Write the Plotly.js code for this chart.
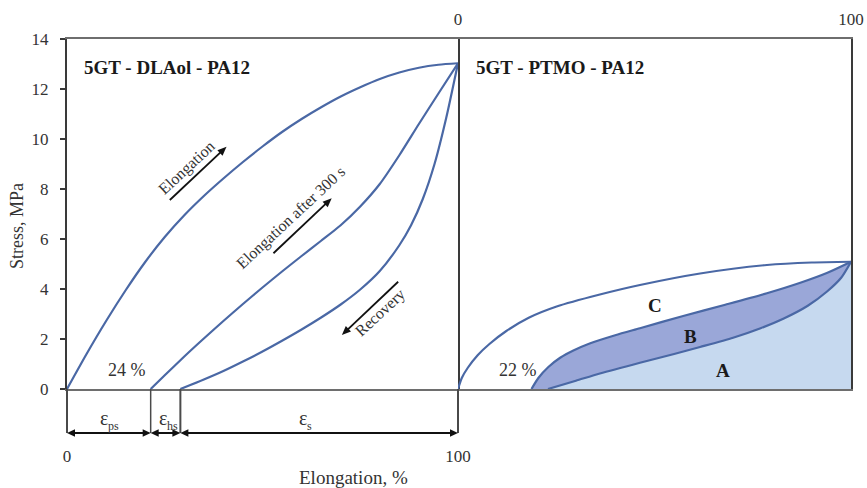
<!DOCTYPE html>
<html><head><meta charset="utf-8">
<script src="https://cdn.plot.ly/plotly-3.0.1.min.js"></script>
<style>html,body{margin:0;padding:0;background:#fff;}#chart{width:867px;height:488px;}</style>
</head><body><div id="chart"></div>
<script>
// ---- Left panel: 5GT - DLAol - PA12 (x: elongation %, y: stress MPa)
const elongX = [0, 5, 10, 15, 20, 25, 30, 35, 40, 45, 50, 55, 60, 65, 70, 75, 80, 85, 90, 95, 100];
const elongY = [0, 1.4, 2.72, 3.95, 5.08, 6.08, 6.95, 7.72, 8.42, 9.08, 9.7, 10.28, 10.8, 11.27, 11.7, 12.07, 12.4, 12.66, 12.85, 12.97, 13.03];
const after300X = [21.4, 25, 30, 35, 40, 45, 50, 55, 60, 65, 70, 75, 80, 85, 90, 95, 100];
const after300Y = [0, 0.55, 1.3, 2.02, 2.72, 3.4, 4.06, 4.7, 5.32, 5.93, 6.55, 7.3, 8.2, 9.35, 10.6, 11.82, 13.03];
const recovX = [29.0, 35, 40, 45, 50, 55, 60, 65, 70, 75, 80, 85, 88, 91, 94, 97, 100];
const recovY = [0, 0.38, 0.72, 1.1, 1.5, 1.93, 2.38, 2.86, 3.38, 3.98, 4.72, 5.75, 6.55, 7.6, 9.0, 10.85, 13.03];

// ---- Right panel: 5GT - PTMO - PA12
const cX = [0, 1, 2.5, 5, 8, 12.3, 18, 25.1, 36.1, 46.3, 61.6, 78.6, 90, 100];
const cY = [0, 0.45, 0.85, 1.35, 1.8, 2.32, 2.85, 3.3, 3.78, 4.16, 4.62, 4.96, 5.06, 5.09];
const bX = [18.7, 20.5, 23, 26, 29.5, 33.5, 40, 46.3, 57.3, 68, 78.6, 87.1, 94, 100];
const bY = [0, 0.45, 0.88, 1.25, 1.55, 1.82, 2.15, 2.43, 2.92, 3.37, 3.83, 4.25, 4.65, 5.09];
const aX = [22.9, 30, 36.1, 46.3, 55, 61.6, 70, 77, 82.9, 89, 93.9, 97.5, 100];
const aY = [0, 0.33, 0.62, 1.05, 1.4, 1.68, 2.05, 2.43, 2.82, 3.33, 3.9, 4.45, 5.09];

// ---- Tick labels
const yTicks = [0, 2, 4, 6, 8, 10, 12, 14];
const xTicks = [0, 100];
const xTickText = ['0', '100'];
const xRange = [0, 100];
const yRange = [0, 14];

const W = 867, H = 488, M = {l: 67, r: 16, t: 39, b: 99};
const leftDomain = [0, 0.4987];
const pxPerX = (W - M.l - M.r) * (leftDomain[1] - leftDomain[0]) / (xRange[1] - xRange[0]);
const pxPerY = (H - M.t - M.b) / (yRange[1] - yRange[0]);

const serif = '"Liberation Serif", "Times New Roman", serif';
const lineColor = '#4a68a5';
const lineStyle = {color: lineColor, width: 2.2, shape: 'spline', smoothing: 0.7};

const traces = [
  {x: elongX, y: elongY, xaxis: 'x', yaxis: 'y', mode: 'lines', line: lineStyle, name: 'Elongation'},
  {x: after300X, y: after300Y, xaxis: 'x', yaxis: 'y', mode: 'lines', line: lineStyle, name: 'Elongation after 300 s'},
  {x: recovX, y: recovY, xaxis: 'x', yaxis: 'y', mode: 'lines', line: lineStyle, name: 'Recovery'},
  {x: aX, y: aY, xaxis: 'x2', yaxis: 'y2', mode: 'lines', fill: 'tozeroy', fillcolor: '#c6d9ef', line: lineStyle, name: 'A'},
  {x: bX, y: bY, xaxis: 'x2', yaxis: 'y2', mode: 'lines', fill: 'tonexty', fillcolor: '#9aa7d8', line: lineStyle, name: 'B'},
  {x: cX, y: cY, xaxis: 'x2', yaxis: 'y2', mode: 'lines', line: lineStyle, name: 'C'}
];

// arrowhead path in pixels (tip at the anchor), direction given in screen pixels (y up)
function headPath(dx, dy, L, Wd) {
  const len = Math.hypot(dx, dy), ux = dx / len, uy = dy / len;
  const px = -uy, py = ux, bx = -L * ux, by = -L * uy, hw = Wd / 2;
  const f = v => v.toFixed(2);
  return 'M0,0L' + f(bx + hw * px) + ',' + f(by + hw * py) + 'L' + f(bx - hw * px) + ',' + f(by - hw * py) + 'Z';
}

// strain partition boundaries (start of each curve and the maximum elongation)
const bounds = [elongX[0], after300X[0], recovX[0], elongX[elongX.length - 1]];
const boundWidths = [2, 1.5, 2, 2];
const strainSubs = ['ps', 'hs', 's'];
const strainLabelX = [10.6, 25.7, 61.4];
const bracketDepth = -44 / (H - M.t - M.b); // paper fraction below the x axis

const shapes = [];
bounds.forEach((b, i) => {
  const edge = (b === xRange[0] || b === xRange[1]);
  const xv = edge ? (b - xRange[0]) / (xRange[1] - xRange[0]) : b;
  shapes.push({type: 'line', xref: edge ? 'x domain' : 'x', x0: xv, x1: xv, yref: 'paper', y0: 0, y1: bracketDepth,
    line: {color: '#4a4a4a', width: boundWidths[i]}});
});
const hShort = 3 / pxPerX;
for (let i = 0; i < bounds.length - 1; i++) {
  shapes.push({type: 'line', xref: 'x', yref: 'paper', x0: bounds[i] + hShort, x1: bounds[i + 1] - hShort,
    y0: bracketDepth, y1: bracketDepth, line: {color: '#111', width: 2}});
  [[bounds[i], -1], [bounds[i + 1], 1]].forEach(h => shapes.push({type: 'path', xref: 'x', yref: 'paper',
    xsizemode: 'pixel', ysizemode: 'pixel', xanchor: h[0], yanchor: bracketDepth,
    path: headPath(h[1], 0, 8, 7.5), fillcolor: '#111', line: {width: 0}}));
}
// in-plot arrows
const arrows = [
  {tail: [26.3, 7.56], head: [40.8, 9.69]},
  {tail: [52.8, 5.43], head: [67.7, 7.63]},
  {tail: [84.7, 4.29], head: [70.3, 2.16]}
];
arrows.forEach(a => {
  const dx = (a.head[0] - a.tail[0]) * pxPerX, dy = (a.head[1] - a.tail[1]) * pxPerY;
  const len = Math.hypot(dx, dy), back = 5;
  shapes.push({type: 'line', xref: 'x', yref: 'y', x0: a.tail[0], y0: a.tail[1],
    x1: a.head[0] - back * dx / len / pxPerX, y1: a.head[1] - back * dy / len / pxPerY, line: {color: '#111', width: 1.8}});
  shapes.push({type: 'path', xref: 'x', yref: 'y', xsizemode: 'pixel', ysizemode: 'pixel', xanchor: a.head[0], yanchor: a.head[1],
    path: headPath(dx, dy, 9, 7.5), fillcolor: '#111', line: {width: 0}});
});

const ann = [];
for (let i = 0; i < strainSubs.length; i++) {
  ann.push({x: strainLabelX[i], y: 0, xref: 'x', yref: 'y', xanchor: 'right', xshift: 2, yshift: -29, text: 'ε',
    showarrow: false, font: {family: serif, size: 20, color: '#333'}});
  ann.push({x: strainLabelX[i], y: 0, xref: 'x', yref: 'y', xanchor: 'left', xshift: -2, yshift: -37, text: strainSubs[i],
    showarrow: false, font: {family: serif, size: 12, color: '#333'}});
}
const rotTexts = [
  {t: 'Elongation', x: 30.6, y: 8.83},
  {t: 'Elongation after 300 s', x: 57.2, y: 6.85},
  {t: 'Recovery', x: 80.1, y: 3.03}
];
rotTexts.forEach(r => ann.push({x: r.x, y: r.y, xref: 'x', yref: 'y', text: r.t, showarrow: false, textangle: -43,
  font: {family: serif, size: 16, color: '#333'}}));
// panel titles and region labels
ann.push({x: 3.8, y: 12.88, xref: 'x', yref: 'y', xanchor: 'left', text: '<b>5GT - DLAol - PA12</b>', showarrow: false,
  font: {family: serif, size: 19, color: '#1a1a1a'}});
ann.push({x: 4.2, y: 12.88, xref: 'x2', yref: 'y2', xanchor: 'left', text: '<b>5GT - PTMO - PA12</b>', showarrow: false,
  font: {family: serif, size: 19, color: '#1a1a1a'}});
ann.push({x: 15.3, y: 0.76, xref: 'x', yref: 'y', text: '24 %', showarrow: false, font: {family: serif, size: 18, color: '#333'}});
ann.push({x: 15.2, y: 0.76, xref: 'x2', yref: 'y2', text: '22 %', showarrow: false, font: {family: serif, size: 18, color: '#333'}});
[['C', 50.1, 3.36], ['B', 59.1, 2.09], ['A', 67.5, 0.76]].forEach(l => ann.push({x: l[1], y: l[2], xref: 'x2', yref: 'y2',
  text: '<b>' + l[0] + '</b>', showarrow: false, font: {family: serif, size: 19, color: '#1a1a1a'}}));
// axis titles
ann.push({x: 0.3648, y: -0.254, xref: 'paper', yref: 'paper', xanchor: 'center', yanchor: 'middle', text: 'Elongation, %',
  showarrow: false, font: {family: serif, size: 19, color: '#333'}});
ann.push({x: -0.0638, y: 0.4657, xref: 'paper', yref: 'paper', xanchor: 'center', yanchor: 'middle', text: 'Stress, MPa',
  showarrow: false, textangle: -90, font: {family: serif, size: 18, color: '#333'}});

const tickFont = {family: serif, size: 17, color: '#333'};
const layout = {
  width: W, height: H,
  margin: {l: M.l, r: M.r, t: M.t, b: M.b, pad: 0},
  paper_bgcolor: '#fff', plot_bgcolor: '#fff',
  showlegend: false, hovermode: false,
  font: {family: serif, color: '#333', size: 17},
  xaxis: {domain: leftDomain, range: xRange, showline: true, linecolor: '#6e6e6e', linewidth: 2, mirror: true,
    showgrid: false, zeroline: false, tickmode: 'array', tickvals: xTicks, ticktext: xTickText, ticks: '',
    ticklabelstandoff: 51, automargin: false, tickfont: tickFont},
  xaxis2: {domain: [leftDomain[1], 1], range: xRange, anchor: 'y2', side: 'top', showline: true, linecolor: '#6e6e6e', linewidth: 2,
    mirror: true, showgrid: false, zeroline: false, tickmode: 'array', tickvals: xTicks, ticktext: xTickText, ticks: '',
    ticklabelstandoff: 5, automargin: false, tickfont: tickFont},
  yaxis: {range: yRange, tickmode: 'array', tickvals: yTicks, showline: true, linecolor: '#3a3a3a', linewidth: 2, mirror: true,
    ticks: 'outside', ticklen: 5, tickwidth: 2, tickcolor: '#3a3a3a', showgrid: false, zeroline: false,
    ticklabelstandoff: 8, automargin: false, tickfont: tickFont},
  yaxis2: {matches: 'y', range: yRange, anchor: 'x2', side: 'right', showline: true, linecolor: '#3a3a3a', linewidth: 2,
    showticklabels: false, ticks: '', showgrid: false, zeroline: false, automargin: false},
  shapes: shapes,
  annotations: ann
};

Plotly.newPlot('chart', traces, layout, {displayModeBar: false, staticPlot: true});
</script>
</body></html>
